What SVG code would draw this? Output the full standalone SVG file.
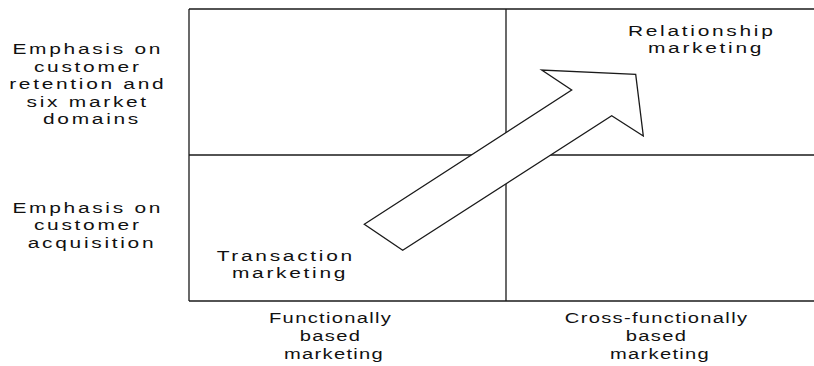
<svg xmlns="http://www.w3.org/2000/svg" width="814" height="366" viewBox="0 0 814 366">
  <style>
    .lbl { font-family: "Liberation Sans", Arial, sans-serif; font-size: 15.5px; fill: #111; text-anchor: middle; letter-spacing: 2px; }
    .tight { letter-spacing: 1px; }
    .rule { stroke: #1a1a1a; stroke-width: 1.3; fill: none; }
    .arrow { stroke: #1a1a1a; stroke-width: 1.3; fill: #fff; stroke-linejoin: miter; }
  </style>
  <rect width="814" height="366" fill="#fff"/>

  <!-- quadrant grid -->
  <g id="grid">
    <line class="rule" x1="189" y1="9" x2="814" y2="9"/>
    <line class="rule" x1="189" y1="9" x2="189" y2="301"/>
    <line class="rule" x1="506" y1="9" x2="506" y2="301"/>
    <line class="rule" x1="189" y1="155" x2="814" y2="155"/>
    <line class="rule" x1="189" y1="301" x2="814" y2="301"/>
  </g>

  <!-- row headings -->
  <g id="row-retention">
    <text class="lbl" transform="translate(92,0) scale(1.35,1)">
      <tspan x="0" y="54">Emphasis on</tspan>
      <tspan x="0" y="72">customer</tspan>
      <tspan x="0" y="89.5">retention and</tspan>
      <tspan x="0" y="107">six market</tspan>
      <tspan x="0" y="124.5">domains</tspan>
    </text>
  </g>
  <g id="row-acquisition">
    <text class="lbl" transform="translate(92,0) scale(1.35,1)">
      <tspan x="0" y="213">Emphasis on</tspan>
      <tspan x="0" y="230.5">customer</tspan>
      <tspan x="0" y="248">acquisition</tspan>
    </text>
  </g>

  <!-- quadrant labels -->
  <g id="transaction">
    <text class="lbl" transform="translate(290,0) scale(1.35,1)">
      <tspan x="0" y="261">Transaction</tspan>
      <tspan x="0" y="278.5">marketing</tspan>
    </text>
  </g>
  <g id="relationship">
    <text class="lbl" transform="translate(706,0) scale(1.35,1)">
      <tspan x="0" y="36">Relationship</tspan>
      <tspan x="0" y="53">marketing</tspan>
    </text>
  </g>

  <!-- column headings -->
  <g id="col-functional">
    <text class="lbl tight" transform="translate(334,0) scale(1.3,1)">
      <tspan x="0" y="323.5">Functionally</tspan>
      <tspan x="0" y="341.5">based</tspan>
      <tspan x="0" y="359.5">marketing</tspan>
    </text>
  </g>
  <g id="col-cross">
    <text class="lbl tight" transform="translate(660,0) scale(1.3,1)">
      <tspan x="0" y="323.5">Cross-functionally</tspan>
      <tspan x="0" y="341.5">based</tspan>
      <tspan x="0" y="359.5">marketing</tspan>
    </text>
  </g>

  <!-- block arrow from transaction to relationship marketing -->
  <g id="connectors">
    <polygon class="arrow" points="364.3,224.3 571.7,90 541.7,70 635.7,74.3 643.3,136 611.7,115.7 402.7,250.3"/>
  </g>
</svg>
